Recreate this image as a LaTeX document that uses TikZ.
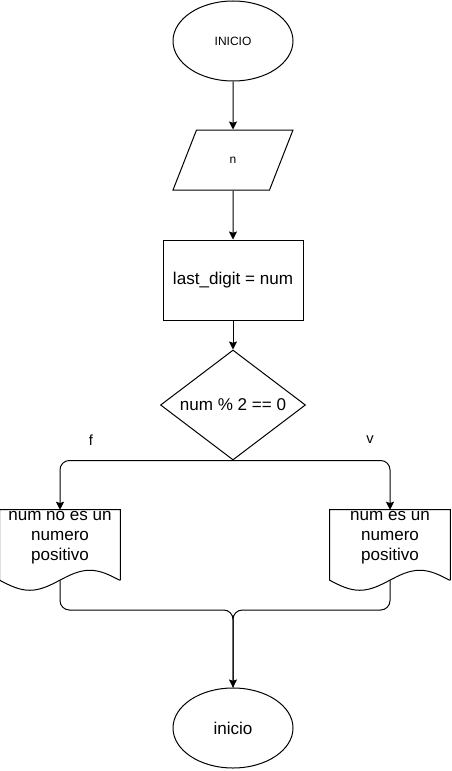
\documentclass[tikz,border=0pt]{standalone}
\usepackage{fontspec}
\setmainfont{Liberation Sans}
\usetikzlibrary{shapes.geometric,arrows.meta}

\begin{document}
\begin{tikzpicture}[x=0.75pt, y=-0.75pt,
  term node/.style={ellipse, draw, line width=0.75pt, minimum width=90pt, minimum height=60pt, inner sep=0pt},
  io node/.style={trapezium, trapezium left angle=71.6, trapezium right angle=108.4, trapezium stretches=true, draw, line width=0.75pt, minimum width=90pt, minimum height=45pt, inner sep=0pt, font=\fontsize{9}{11}\selectfont},
  proc node/.style={rectangle, draw, line width=0.75pt, minimum width=105pt, minimum height=60pt, inner sep=0pt},
  dec node/.style={diamond, draw, line width=0.75pt, aspect=1.3, minimum width=108.75pt, minimum height=82.5pt, inner sep=0pt},
  doc node/.style={rectangle, minimum width=90pt, minimum height=52.5pt, inner sep=0pt},
  doc text/.style={align=center, inner sep=0pt},
  big text/.style={font=\fontsize{12.8}{15}\selectfont},
  label text/.style={font=\fontsize{11}{13}\selectfont},
  small text/.style={font=\fontsize{9}{11}\selectfont},
  arrow line/.style={-{Stealth[length=6pt, width=6pt, inset=1pt]}, line width=0.75pt},
  plain line/.style={line width=0.75pt}]
\useasboundingbox (0,0) rectangle (451,771);

% start
\node[term node, small text] (start) at (233,41) {INICIO};

%input
\node[io node] (read) at (233,160) {n};

%process
\node[proc node, big text] (assign) at (233,280) {last\_digit = num};

% decision
\node[dec node, big text] (cond) at (233,405) {num \% 2 == 0};

% branch labels
\node[label text] (flabel) at (91,440) {f};
\node[label text] (vlabel) at (370,440) {v};

% documents
\node[doc node] (nopos) at (60,545) {};
\node[doc text, big text] (nopostext) at (60,538) {num no es un\\numero\\positivo};

\node[doc node] (pos) at (390,545) {};
\node[doc text, big text] (postext) at (390,538) {num es un\\numero\\positivo};

\draw[plain line] (nopos.south east) -- (nopos.north east) -- (nopos.north west) -- (nopos.south west)
  sin ++(30,10) cos ++(30,-10) sin ++(30,-10) cos ++(30,10);
\draw[plain line] (pos.south east) -- (pos.north east) -- (pos.north west) -- (pos.south west)
  sin ++(30,10) cos ++(30,-10) sin ++(30,-10) cos ++(30,10);

% end
\node[term node, big text] (stop) at (233,728) {inicio};

\coordinate (join) at (233,610);

\draw[arrow line] (start) -- (read);
\draw[arrow line] (read) -- (assign);
\draw[arrow line] (assign) -- (cond);

% decision -> documents
\draw[arrow line, rounded corners=7pt] (cond.south) -| (nopos.north);
\draw[arrow line, rounded corners=7pt] (cond.south) -| (pos.north);

% documents -> end
\draw[plain line, rounded corners=7pt] (nopos.south) |- (join) -- (stop.north);
\draw[arrow line, rounded corners=7pt] (pos.south) |- (join) -- (stop.north);

\end{tikzpicture}
\end{document}
